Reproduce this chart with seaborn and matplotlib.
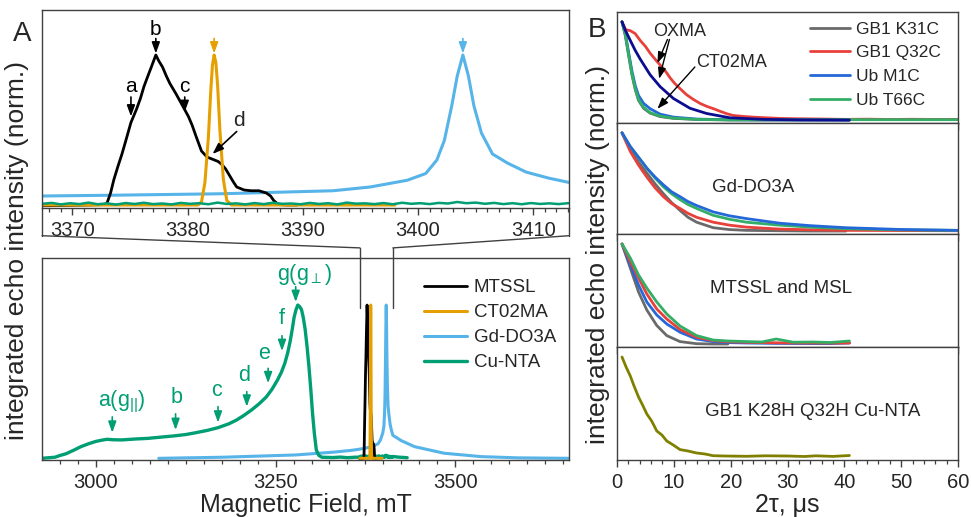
import matplotlib
matplotlib.use("Agg")
import numpy as np
import pandas as pd
import seaborn as sns
import matplotlib.pyplot as plt
from matplotlib.lines import Line2D
from matplotlib.patches import ConnectionPatch
from matplotlib.ticker import MultipleLocator

# ---------------- DATA : panel A (field sweeps) ----------------
mtssl_field = [3367.36, 3368.5, 3370.0, 3371.5, 3372.5, 3372.83, 3373.0, 3373.31, 3373.6, 3373.96,
               3374.3, 3374.6, 3375.08, 3375.57, 3375.9, 3376.21, 3376.55, 3376.85, 3377.24, 3377.5,
               3377.82, 3378.15, 3378.46, 3379.0, 3379.43, 3380.07, 3380.4, 3380.72, 3381.2, 3381.68,
               3382.0, 3382.33, 3382.65, 3382.97, 3383.3, 3383.61, 3384.0, 3384.26, 3384.9, 3385.5,
               3386.19, 3386.83, 3387.2, 3387.47, 3387.8, 3388.1, 3388.6, 3389.5]
mtssl_int = [-0.005, -0.004, -0.002, 0.0, 0.002, 0.005, 0.012, 0.08, 0.17, 0.26,
             0.34, 0.42, 0.55, 0.64, 0.71, 0.79, 0.86, 0.92, 1.0, 0.96,
             0.92, 0.86, 0.81, 0.74, 0.68, 0.59, 0.53, 0.46, 0.36, 0.32,
             0.31, 0.30, 0.29, 0.27, 0.24, 0.2, 0.15, 0.12, 0.10, 0.095,
             0.095, 0.08, 0.06, 0.03, 0.008, 0.002, 0.0, 0.0]

ct02_field = [3367.36, 3375.0, 3380.9, 3381.2, 3381.5, 3381.8, 3382.0, 3382.15, 3382.3, 3382.45,
              3382.6, 3382.8, 3383.1, 3383.4, 3383.8, 3390.0, 3398.0]
ct02_int = [0.0, 0.0, 0.0, 0.02, 0.15, 0.45, 0.75, 0.93, 1.0, 0.95,
            0.8, 0.5, 0.17, 0.03, 0.0, 0.0, 0.0]

gd_field = [3087.6, 3175.3, 3278.4, 3329.9, 3355.7, 3367.36, 3373.31, 3382.97, 3392.62, 3395.84,
            3399.06, 3400.67, 3401.63, 3402.28, 3402.92, 3403.4, 3403.89, 3404.37, 3404.85, 3405.5,
            3406.46, 3407.75, 3409.36, 3411.29, 3413.12, 3425.0, 3443.3, 3484.5, 3536.0, 3587.6, 3658.0]
gd_int = [0.0, 0.007, 0.022, 0.04, 0.052, 0.06, 0.065, 0.075, 0.095, 0.12,
          0.165, 0.21, 0.3, 0.43, 0.66, 0.86, 1.0, 0.86, 0.66, 0.48,
          0.34, 0.28, 0.22, 0.18, 0.15, 0.115, 0.076, 0.033, 0.011, 0.003, 0.0]

cu_field_main = [2925.3, 2935, 2943.3, 2950, 2958.8, 2969, 2979.4, 2990, 3000, 3008,
                 3015.5, 3025, 3036.1, 3055, 3072.2, 3090, 3108.2, 3125, 3139.2, 3155,
                 3170.1, 3185, 3195.9, 3206, 3216.5, 3227, 3237.1, 3245, 3252.6, 3258,
                 3262.9, 3267, 3270.6, 3273.5, 3275.8, 3278.5, 3280.9, 3283.5, 3286.1, 3288.5,
                 3291.2, 3293.8, 3296.4, 3299, 3301.5, 3304, 3306.7, 3310, 3314.4, 3322,
                 3329.9, 3340, 3350, 3360]
cu_int_main = [0.0, 0.004, 0.007, 0.018, 0.03, 0.052, 0.076, 0.095, 0.11, 0.118,
               0.124, 0.121, 0.12, 0.126, 0.13, 0.138, 0.146, 0.155, 0.167, 0.182,
               0.2, 0.225, 0.25, 0.28, 0.315, 0.355, 0.4, 0.45, 0.51, 0.56,
               0.62, 0.69, 0.77, 0.85, 0.92, 0.97, 1.0, 0.99, 0.97, 0.92,
               0.84, 0.73, 0.6, 0.45, 0.29, 0.16, 0.054, 0.02, 0.007, 0.006,
               0.005, 0.008, 0.004, 0.007]
cu_field_base = [3367.4, 3368.2, 3369.0, 3369.8, 3370.6, 3371.4, 3372.2, 3373.0, 3373.8, 3374.6,
                 3375.4, 3376.2, 3377.0, 3377.8, 3378.6, 3379.4, 3380.2, 3381.0, 3381.8, 3382.6,
                 3383.4, 3384.2, 3385.0, 3385.8, 3386.6, 3387.4, 3388.2, 3389.0, 3389.8, 3390.6,
                 3391.4, 3392.2, 3393.0, 3393.8, 3394.6, 3395.4, 3396.2, 3397.0, 3397.8, 3398.6,
                 3399.4, 3400.2, 3401.0, 3401.8, 3402.6, 3403.4, 3404.2, 3405.0, 3405.8, 3406.6,
                 3407.4, 3408.2, 3409.0, 3409.8, 3410.6, 3411.4, 3412.2, 3413.0, 3420.0, 3433.0]
cu_int_base = [0.008, 0.014, 0.004, 0.012, 0.006, 0.016, 0.005, 0.011, 0.003, 0.013,
               0.007, 0.015, 0.006, 0.01, 0.004, 0.014, 0.008, 0.012, 0.005, 0.016,
               0.007, 0.011, 0.004, 0.013, 0.006, 0.015, 0.008, 0.01, 0.005, 0.014,
               0.007, 0.012, 0.004, 0.016, 0.009, 0.011, 0.006, 0.013, 0.005, 0.015,
               0.008, 0.012, 0.006, 0.014, 0.01, 0.02, 0.012, 0.016, 0.008, 0.014,
               0.006, 0.012, 0.005, 0.013, 0.007, 0.011, 0.006, 0.012, 0.008, 0.004]
cu_field = cu_field_main + cu_field_base
cu_int = cu_int_main + cu_int_base

# ---------------- DATA : panel B (echo decays) ----------------
p1_t = [0.88, 1.46, 2.04, 2.63, 3.21, 3.79, 4.67, 5.84, 7.59, 9.92, 14.0, 19.8, 30.0, 40.9, 50.0, 60.0]
p1_green = [1.0, 0.87, 0.67, 0.47, 0.32, 0.21, 0.13, 0.075, 0.04, 0.02, 0.007, 0.002, 0.003, 0.004, 0.004, 0.004]
p1_blue = [1.0, 0.88, 0.69, 0.50, 0.35, 0.25, 0.17, 0.115, 0.06, 0.03, 0.01, 0.003, 0.001, 0.0]
p1_gray = [1.0, 0.86, 0.66, 0.46, 0.31, 0.2, 0.12, 0.07, 0.035, 0.017, 0.006, 0.001, 0.0, 0.0]
p1_t_red = [0.88, 1.5, 2.34, 3.2, 4.09, 5.0, 5.84, 6.7, 7.59, 8.5,
            9.34, 10.2, 11.09, 12.2, 13.43, 14.6, 15.76, 17.0, 18.1, 19.3,
            20.43, 22.0, 23.9, 26.0, 28.6, 31.0, 34.0, 37.0, 40.3, 44.0,
            48.0, 52.0, 56.0, 60.0]
p1_red = [1.0, 0.92, 0.91, 0.88, 0.81, 0.75, 0.68, 0.62, 0.56, 0.5,
          0.43, 0.37, 0.32, 0.26, 0.21, 0.17, 0.14, 0.115, 0.09, 0.065,
          0.047, 0.038, 0.03, 0.024, 0.017, 0.014, 0.012, 0.01, 0.007, 0.009,
          0.006, 0.008, 0.006, 0.007]
p1_t_navy = [0.88, 1.5, 2.34, 3.2, 4.09, 5.84, 7.59, 9.92, 12.84, 15.76, 19.85, 25.7, 32.0, 40.9]
p1_navy = [1.0, 0.91, 0.81, 0.71, 0.62, 0.46, 0.34, 0.22, 0.12, 0.067, 0.023, 0.007, 0.002, 0.0]

p2_t = [0.88, 2.34, 3.8, 5.25, 6.7, 8.17, 9.6, 11.09, 12.5, 14.01,
        16.93, 19.8, 22.77, 28.6, 34.0, 40.28, 50.0, 60.0]
p2_gray = [1.0, 0.83, 0.7, 0.59, 0.48, 0.38, 0.29, 0.21, 0.14, 0.09, 0.034, 0.015, 0.007, 0.003, 0.0, 0.0]
p2_red = [1.0, 0.81, 0.67, 0.55, 0.44, 0.35, 0.28, 0.23, 0.18, 0.14, 0.09, 0.06, 0.04, 0.02, 0.013, 0.007, 0.005, 0.003]
p2_green = [1.0, 0.86, 0.75, 0.64, 0.54, 0.45, 0.38, 0.32, 0.27, 0.23, 0.16, 0.12, 0.09, 0.06, 0.04, 0.024, 0.012, 0.007]
p2_blue = [1.0, 0.86, 0.75, 0.64, 0.55, 0.47, 0.40, 0.35, 0.30, 0.26, 0.195, 0.155, 0.127, 0.08, 0.055, 0.034, 0.016, 0.007]

p3_t = [0.88, 2.34, 3.79, 5.25, 7.0, 8.76, 11.09, 14.0, 16.9, 19.5,
        22.8, 25.5, 28.0, 31.0, 34.4, 37.5, 40.9]
p3_gray = [1.0, 0.76, 0.52, 0.34, 0.185, 0.084, 0.024, 0.003, 0.0, 0.0]
p3_blue = [1.0, 0.79, 0.59, 0.42, 0.29, 0.2, 0.118, 0.05, 0.024, 0.014, 0.01, 0.008, 0.006, 0.005, 0.004, 0.004, 0.01]
p3_red = [1.0, 0.825, 0.66, 0.5, 0.35, 0.25, 0.145, 0.067, 0.034, 0.022, 0.017, 0.014, 0.012, 0.01, 0.01, 0.009, 0.01]
p3_green = [1.0, 0.86, 0.69, 0.56, 0.42, 0.30, 0.18, 0.084, 0.04, 0.03, 0.024, 0.02, 0.05, 0.018, 0.02, 0.015, 0.03]

p4_t = [0.88, 1.6, 2.34, 3.0, 3.79, 4.5, 5.25, 6.1, 7.0, 7.9,
        8.76, 9.9, 11.09, 12.5, 14.0, 15.5, 16.9, 19.0, 22.8, 26.0,
        30.0, 33.0, 35.0, 38.0, 40.9]
p4_olive = [1.0, 0.9, 0.81, 0.71, 0.6, 0.52, 0.43, 0.36, 0.26, 0.22,
            0.16, 0.12, 0.074, 0.06, 0.04, 0.03, 0.013, 0.01, 0.007, 0.012,
            0.01, 0.005, 0.012, 0.006, 0.015]

legend_A = ["MTSSL", "CT02MA", "Gd-DO3A", "Cu-NTA"]
legend_B = ["GB1 K31C", "GB1 Q32C", "Ub M1C", "Ub T66C"]

# ---------------- STYLE ----------------
sns.set_theme(style="white")
plt.rcParams["font.family"] = ["Liberation Sans", "DejaVu Sans"]
plt.rcParams["mathtext.fontset"] = "custom"
plt.rcParams["mathtext.rm"] = "Liberation Sans"
plt.rcParams["mathtext.it"] = "Liberation Sans:italic"

C_BLACK, C_ORANGE, C_LBLUE, C_GREEN = "#000000", "#E69F00", "#56B4E9", "#009E73"
C_GRAY, C_RED, C_BLUE, C_BGREEN, C_NAVY, C_OLIVE = "#6a6a6a", "#E8413C", "#2468D8", "#33AE66", "#0C0C90", "#808000"
SPINE = "#404040"

W, H = 971, 517
fig = plt.figure(figsize=(W / 100, H / 100), dpi=100)


def ax_px(l, t, r, b):
    return fig.add_axes([l / W, 1 - b / H, (r - l) / W, (b - t) / H])


def style(ax, major, minor, labels=True, fs=14.5):
    for s in ax.spines.values():
        s.set_color(SPINE)
        s.set_linewidth(1.0)
    ax.set_yticks([])
    ax.xaxis.set_major_locator(MultipleLocator(major))
    ax.xaxis.set_minor_locator(MultipleLocator(minor))
    ax.tick_params(axis="x", which="major", bottom=True, direction="out", length=5, width=1,
                   color=SPINE, labelsize=fs, pad=4, labelbottom=labels)
    ax.tick_params(axis="x", which="minor", bottom=True, direction="out", length=3, width=0.9, color=SPINE)
    ax.set_xlabel("")
    ax.set_ylabel("")


def draw(ax, x, y, color, lw=2.0, label=None):
    sns.lineplot(x=x, y=y, ax=ax, color=color, lw=lw, label=label, legend=False,
                 estimator=None, sort=False)


def arrow(ax, tip, start, color, lw=1.2):
    ax.annotate("", xy=tip, xytext=start,
                arrowprops=dict(arrowstyle="-|>,head_length=0.55,head_width=0.2", color=color,
                                lw=lw, shrinkA=0, shrinkB=0))


# ---------------- PANEL A top (zoom) ----------------
axT = ax_px(42, 10, 569, 208)
draw(axT, gd_field, gd_int, C_LBLUE, lw=2.2)
draw(axT, mtssl_field, mtssl_int, C_BLACK)
draw(axT, ct02_field, ct02_int, C_ORANGE, lw=2.2)
draw(axT, cu_field, cu_int, C_GREEN, lw=1.8)
axT.set_xlim(3367.36, 3413.1)
axT.set_ylim(-0.02, 1.30)
style(axT, 10, 1)

for lab, xt, yt, tip, st in [("a", 3375.08, 0.79, (3375.08, 0.59), (3375.08, 0.72)),
                             ("b", 3377.24, 1.17, (3377.24, 1.01), (3377.24, 1.11)),
                             ("c", 3379.75, 0.79, (3379.75, 0.62), (3379.75, 0.72))]:
    axT.text(xt, yt, lab, fontsize=15, ha="center", va="center", color="black")
    arrow(axT, tip, st, "black")
axT.text(3384.42, 0.56, "d", fontsize=15, ha="center", va="center")
arrow(axT, (3382.16, 0.34), (3384.26, 0.49), "black")
arrow(axT, (3382.3, 1.01), (3382.3, 1.11), C_ORANGE)
arrow(axT, (3403.89, 1.01), (3403.89, 1.11), C_LBLUE)

# ---------------- PANEL A bottom (full) ----------------
axB = ax_px(42, 258, 569, 460)
draw(axB, gd_field, gd_int, C_LBLUE, lw=2.2, label=legend_A[2])
draw(axB, cu_field, cu_int, C_GREEN, lw=2.4, label=legend_A[3])
draw(axB, mtssl_field, mtssl_int, C_BLACK, lw=2.0, label=legend_A[0])
draw(axB, ct02_field, ct02_int, C_ORANGE, lw=2.2, label=legend_A[1])
axB.set_xlim(2925.3, 3658)
axB.set_ylim(-0.011, 1.307)
style(axB, 250, 25)
axB.set_xlabel("Magnetic Field, mT", fontsize=18, labelpad=1)

for lab, xt, yt, xa, y0, y1 in [("a(g$_{||}$)", 3036, 0.37, 3023, 0.27, 0.167),
                                ("b", 3112, 0.40, 3111, 0.29, 0.185),
                                ("c", 3167.5, 0.445, 3170, 0.337, 0.233),
                                ("d", 3207, 0.54, 3210, 0.435, 0.337),
                                ("e", 3234.5, 0.685, 3239.7, 0.587, 0.49),
                                ("f", 3259, 0.91, 3259, 0.80, 0.70),
                                ("g(g$_{\\perp}$)", 3291, 1.2, 3278, 1.12, 1.02)]:
    axB.text(xt, yt, lab, fontsize=15.5, ha="center", va="center", color=C_GREEN)
    arrow(axB, (xa, y1), (xa, y0), C_GREEN)

hA = {l.get_label(): l for l in axB.get_lines()}
axB.legend(handles=[hA[n] for n in legend_A], loc="upper left", bbox_to_anchor=(0.725, 0.895),
           frameon=False, fontsize=13.5, handlelength=2.3, handletextpad=0.35,
           labelspacing=0.42, borderpad=0, borderaxespad=0)

# zoom connector lines
xl, xr = axT.get_xlim()
trB = axB.get_xaxis_transform()
for xv, xa_top in [(xl, 0.0), (xr, 1.0)]:
    axB.add_artist(Line2D([xv, xv], [0.752, 1.05], transform=trB, color=SPINE, lw=1.0, clip_on=False))
    axT.add_artist(Line2D([xa_top, xa_top], [0.0, -0.14], transform=axT.transAxes, color=SPINE,
                          lw=1.0, clip_on=False))
    cp = ConnectionPatch(xyA=(xa_top, -0.14), coordsA=axT.transAxes, xyB=(xv, 1.05), coordsB=trB,
                         color=SPINE, lw=1.0)
    fig.add_artist(cp)

# ---------------- PANEL B ----------------
bax = [ax_px(617, 12, 958, 123), ax_px(617, 123, 958, 234),
       ax_px(617, 234, 958, 347), ax_px(617, 347, 958, 460)]

a1 = bax[0]
draw(a1, p1_t[:14], p1_gray, C_GRAY, label=legend_B[0])
draw(a1, p1_t_red, p1_red, C_RED, label=legend_B[1])
draw(a1, p1_t[:14], p1_blue, C_BLUE, label=legend_B[2])
draw(a1, p1_t, p1_green, C_BGREEN, label=legend_B[3])
draw(a1, p1_t_navy, p1_navy, C_NAVY)
a1.text(11.1, 0.90, "OXMA", fontsize=13, ha="center", va="center")
arrow(a1, (7.12, 0.58), (8.87, 0.82), "black", lw=1.0)
arrow(a1, (7.41, 0.42), (9.22, 0.82), "black", lw=1.0)
a1.text(20.1, 0.59, "CT02MA", fontsize=13, ha="center", va="center")
arrow(a1, (7.12, 0.115), (13.7, 0.54), "black", lw=1.0)
hB = {l.get_label(): l for l in a1.get_lines()}
a1.legend(handles=[hB[n] for n in legend_B], loc="upper left", bbox_to_anchor=(0.565, 0.915),
          frameon=False, fontsize=12.5, handlelength=2.3, handletextpad=0.35,
          labelspacing=0.5, borderpad=0, borderaxespad=0)

a2 = bax[1]
draw(a2, p2_t[:16], p2_gray, C_GRAY)
draw(a2, p2_t, p2_red, C_RED)
draw(a2, p2_t, p2_green, C_BGREEN)
draw(a2, p2_t, p2_blue, C_BLUE)
a2.text(23.9, 0.44, "Gd-DO3A", fontsize=13.5, ha="center", va="center")

a3 = bax[2]
draw(a3, p3_t[:10], p3_gray, C_GRAY)
draw(a3, p3_t, p3_blue, C_BLUE)
draw(a3, p3_t, p3_red, C_RED)
draw(a3, p3_t, p3_green, C_BGREEN)
a3.text(28.9, 0.556, "MTSSL and MSL", fontsize=13.5, ha="center", va="center")

a4 = bax[3]
draw(a4, p4_t, p4_olive, C_OLIVE)
a4.text(34.4, 0.46, "GB1 K28H Q32H Cu-NTA", fontsize=13.5, ha="center", va="center")

for i, ax in enumerate(bax):
    ax.set_xlim(0, 60)
    ax.set_ylim(-0.03, 1.1)
    style(ax, 10, 2, labels=(i == 3), fs=14.5)
bax[3].set_xlabel("2τ, μs", fontsize=18, labelpad=1)

# ---------------- figure texts ----------------
fig.text(22 / W, 1 - 34 / H, "A", fontsize=20, ha="center", va="center")
fig.text(597 / W, 1 - 30 / H, "B", fontsize=20, ha="center", va="center")
fig.text(17 / W, 1 - 250 / H, "integrated echo intensity (norm.)", fontsize=19,
         rotation=90, ha="center", va="center")
fig.text(598 / W, 1 - 254 / H, "integrated echo intensity (norm.)", fontsize=19,
         rotation=90, ha="center", va="center")

fig.savefig("out.png", dpi=100)
